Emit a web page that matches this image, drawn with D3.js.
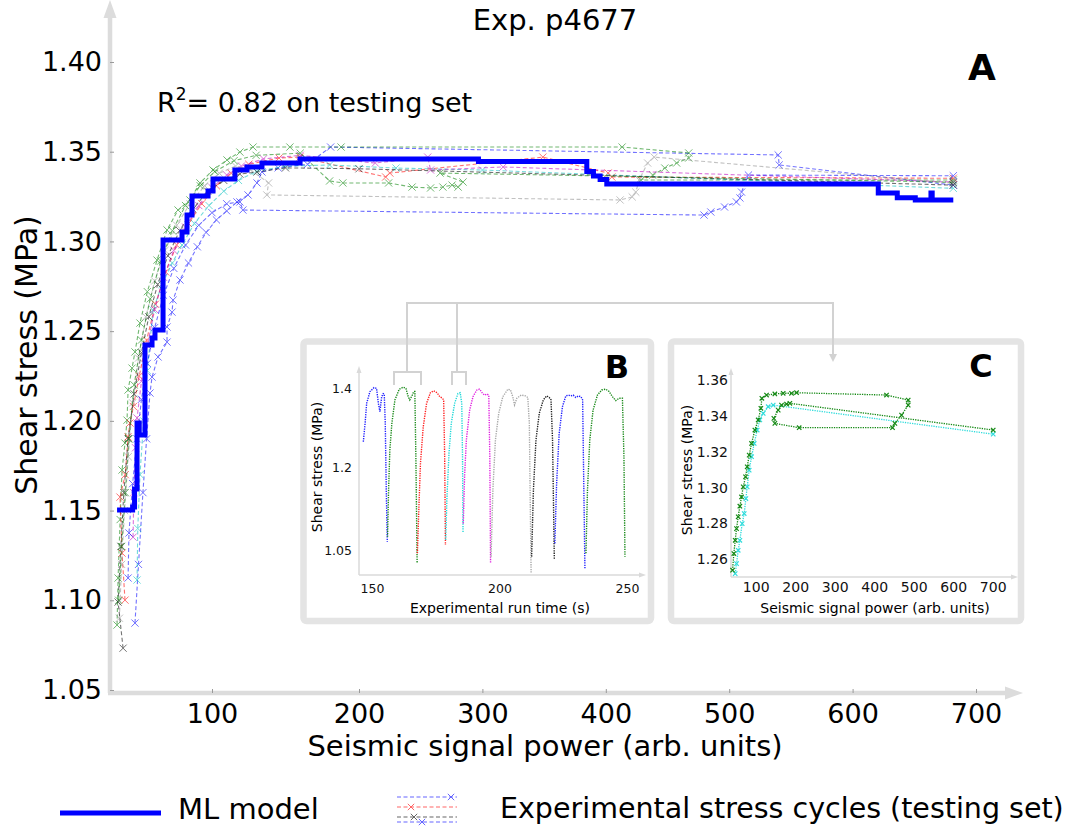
<!DOCTYPE html>
<html><head><meta charset="utf-8">
<script src="https://cdn.jsdelivr.net/npm/d3@7/dist/d3.min.js"></script>
<style>
html,body{margin:0;padding:0;background:#fff;}
svg{display:block;font-family:"DejaVu Sans",sans-serif;}
</style></head>
<body>
<svg id="chart" width="1075" height="826"></svg>
<script>
// ================= DATA =================
const mainXTicks = [100, 200, 300, 400, 500, 600, 700];
const mainYTicks = [1.05, 1.10, 1.15, 1.20, 1.25, 1.30, 1.35, 1.40];

// ML model prediction (seismic power, shear stress)
const mlModel = [[35.4,1.1503],[46,1.152],[47.3,1.162],[49,1.1988],[50.5,1.1921],[54.4,1.2423],[59.2,1.2462],[61.2,1.2506],[66.7,1.3008],[79.6,1.3052],[83,1.3147],[86.4,1.3253],[97.3,1.3281],[100.7,1.3348],[115.6,1.3398],[123.8,1.3415],[134,1.3437],[159.9,1.3459],[296.8,1.3445],[384.6,1.339],[390,1.3365],[395.4,1.3345],[400.8,1.332],[620.8,1.327],[636.2,1.3244],[650.8,1.3231],[663.5,1.327],[664.5,1.3231],[681.6,1.3231]];

// Experimental stress cycles (testing set)
const expBlueA = [[47.6,1.0873],[50,1.12],[53,1.16],[55.5,1.19],[57.8,1.2155],[59.2,1.2244],[63.3,1.2356],[69.4,1.2439],[69.4,1.2523],[72.8,1.2606],[73.5,1.2673],[78.2,1.2785],[84,1.288],[90,1.297],[96,1.305],[103,1.312],[110,1.317],[117,1.322],[124.5,1.3259],[130.6,1.3326],[134,1.3387],[145,1.341],[165,1.343],[180.7,1.3526],[539.7,1.3482],[540.5,1.3426],[681.6,1.3314]];
const expGreenA = [[35.4,1.0862],[36.1,1.1124],[37.5,1.145],[38.8,1.1726],[40.8,1.1876],[42.2,1.2004],[42.9,1.2172],[45.6,1.2294],[47.6,1.2384],[51,1.2545],[56,1.272],[62.6,1.2896],[69.4,1.3064],[76.9,1.3175],[85,1.3231],[91.8,1.3326],[100.7,1.3398],[110.2,1.3454],[119,1.3498],[127.9,1.3526],[153,1.3526],[187.8,1.3526],[413.2,1.3526],[467.2,1.3493],[467.2,1.3465],[457.4,1.3437],[447.8,1.3409],[438,1.337],[428.4,1.3342],[681.6,1.3342]];
const expRed = [[40.8,1.1001],[38.8,1.1263],[37.4,1.1575],[41,1.17],[42.9,1.191],[44.2,1.1988],[46.5,1.208],[50.5,1.225],[55.5,1.245],[61.5,1.265],[68.5,1.283],[76,1.298],[84,1.31],[93,1.321],[103,1.331],[113,1.338],[125,1.343],[145.6,1.3465],[159.9,1.347],[221.6,1.3359],[225,1.3381],[349,1.347],[401.9,1.3381],[404.9,1.3359],[681.6,1.3352]];
const expCyan = [[49,1.1113],[49.5,1.14],[51,1.17],[53.5,1.2],[56,1.228],[59.9,1.2618],[66,1.276],[73,1.288],[79.6,1.298],[88,1.31],[98,1.32],[108,1.328],[118,1.334],[130,1.339],[150,1.342],[180,1.3426],[230,1.3409],[300,1.3398],[681.6,1.3296]];
const expMagenta = [[46.3,1.1352],[46.8,1.16],[48,1.185],[49,1.2016],[52,1.222],[56,1.242],[61,1.262],[67,1.28],[74,1.295],[82,1.308],[91,1.32],[100,1.33],[110,1.337],[120,1.342],[135,1.346],[160,1.348],[213.2,1.3437],[255.7,1.347],[258,1.3398],[316.8,1.3415],[681.6,1.3331]];
const expGray = [[37,1.09],[38.5,1.12],[40.5,1.15],[43,1.18],[46,1.21],[50,1.235],[55,1.258],[61,1.278],[68,1.295],[76,1.309],[85,1.321],[95,1.331],[105,1.338],[116,1.342],[126,1.34],[138.5,1.3326],[137.3,1.3259],[411.6,1.3231],[421.4,1.3248],[424.3,1.3275],[427,1.3342],[433.9,1.3437],[439.2,1.347],[681.6,1.3324]];
const expBlack = [[39.5,1.0733],[36.1,1.099],[38,1.13],[40,1.16],[43,1.19],[47,1.215],[52,1.238],[57,1.258],[63,1.276],[70,1.292],[78,1.306],[87,1.318],[97,1.328],[108,1.334],[119,1.3375],[130.6,1.3387],[150,1.341],[200,1.3405],[681.6,1.3314]];
const expBlueB = [[42.9,1.1124],[43.5,1.1375],[46,1.165],[49,1.19],[52,1.212],[56,1.232],[61,1.252],[67,1.27],[74,1.285],[82,1.298],[91,1.309],[100,1.316],[110,1.321],[119,1.322],[121,1.3175],[479.6,1.3147],[485.1,1.3164],[496.2,1.3192],[505.8,1.322],[508.7,1.3242],[510,1.3275],[515.6,1.337],[681.6,1.3366]];
const expGreenB = [[36.5,1.1],[38.5,1.13],[41,1.16],[43.5,1.19],[47,1.22],[52,1.245],[58,1.268],[65,1.289],[73,1.306],[82,1.32],[92,1.331],[102,1.339],[115,1.345],[130,1.348],[160,1.3492],[180,1.3337],[189,1.3326],[224,1.3326],[243,1.3303],[258,1.3298],[268,1.3303],[275.4,1.3314],[280.3,1.3303],[284.3,1.3331],[265.7,1.3381],[681.6,1.333]];
const expCycles = [expBlueA, expGreenA, expRed, expCyan, expMagenta, expGray, expBlack, expBlueB, expGreenB];
const expColors = ["#0000ff","#008000","#ff0000","#00bfbf","#bf00bf","#909090","#000000","#0000ff","#008000"];

// Inset B: shear stress vs experimental run time (s)
const bXTicks = [150, 200, 250];
const bYTicks = [1.05, 1.2, 1.4];
const bYTickLabels = ["1.05", "1.2", "1.4"];
const bBlue1 = [[146.6,1.264],[147.3,1.311],[147.9,1.361],[149.2,1.391],[150.8,1.401],[151.8,1.399],[152.5,1.361],[153.1,1.34],[153.8,1.378],[154.4,1.386],[154.8,1.385],[155.2,1.311],[155.6,1.158],[156.0,1.065]];
const bGreen1 = [[156.1,1.074],[156.5,1.158],[157.0,1.243],[157.8,1.311],[159.0,1.37],[160.7,1.397],[162.2,1.402],[163.3,1.399],[164.2,1.378],[164.8,1.37],[165.8,1.382],[166.4,1.391],[166.8,1.391],[167.2,1.226],[167.7,1.026]];
const bRed = [[167.8,1.044],[168.4,1.128],[169.0,1.209],[170.1,1.302],[171.4,1.361],[172.9,1.388],[174.2,1.393],[175.5,1.388],[176.6,1.378],[177.6,1.374],[178.1,1.37],[178.5,1.226],[178.8,1.059]];
const bCyan = [[178.9,1.068],[179.4,1.146],[180.2,1.235],[181.1,1.311],[182.4,1.361],[183.7,1.386],[184.6,1.388],[185.2,1.361],[185.5,1.226],[185.7,1.081]];
const bMagenta = [[185.8,1.098],[186.3,1.183],[187.0,1.268],[188.3,1.344],[189.6,1.378],[191.1,1.395],[192.2,1.397],[193.2,1.388],[194.1,1.382],[195.1,1.385],[195.8,1.382],[196.2,1.226],[196.5,1.026]];
const bGray = [[196.7,1.038],[197.4,1.158],[198.4,1.268],[199.7,1.336],[201.3,1.378],[203.3,1.397],[204.3,1.395],[205.2,1.378],[205.9,1.357],[206.8,1.374],[208.5,1.382],[210.2,1.38],[211.1,1.376],[211.7,1.311],[212.0,1.158],[212.4,1.008]];
const bBlack = [[212.6,1.038],[213.3,1.158],[214.3,1.268],[215.6,1.336],[217.2,1.37],[218.5,1.38],[219.5,1.376],[220.2,1.37],[220.8,1.268],[221.5,1.033]];
const bBlue2 = [[221.7,1.062],[222.4,1.17],[223.4,1.285],[224.7,1.353],[226.0,1.38],[227.1,1.382],[228.0,1.38],[228.9,1.382],[229.9,1.376],[231.0,1.38],[231.9,1.378],[232.6,1.37],[232.9,1.226],[233.5,1.017]];
const bGreen2 = [[233.9,1.044],[234.5,1.158],[235.4,1.268],[236.7,1.344],[238.4,1.382],[240.1,1.395],[241.7,1.397],[243.0,1.391],[244.3,1.378],[245.6,1.368],[246.9,1.374],[248.2,1.374],[248.8,1.226],[249.2,1.038]];
const bCycles = [bBlue1, bGreen1, bRed, bCyan, bMagenta, bGray, bBlack, bBlue2, bGreen2];
const bColors = ["#2020ff","#1a8a1a","#ff2020","#20d8d8","#e020e0","#a8a8a8","#202020","#2020ff","#1a8a1a"];

// Inset C: two cycles, shear stress vs seismic power
const cXTicks = [100, 200, 300, 400, 500, 600, 700];
const cYTicks = [1.26, 1.28, 1.30, 1.32, 1.34, 1.36];
const cGreen = [[41.4,1.2539],[44.7,1.2632],[48.1,1.2706],[51.5,1.2771],[55.7,1.2837],[59.9,1.2896],[64.1,1.2948],[68.4,1.3004],[74.3,1.306],[78.5,1.3116],[83.5,1.3181],[89.5,1.3246],[97.9,1.3321],[106.3,1.3377],[113.1,1.3442],[115.6,1.3498],[127.4,1.3516],[148.5,1.3522],[169.6,1.3526],[190.7,1.3526],[203.4,1.3529],[431.2,1.3516],[486.1,1.3488],[486.1,1.346],[469.2,1.3404],[452.3,1.3358],[446.4,1.3334],[210.1,1.3334],[148.5,1.3358],[146,1.3386],[157,1.3432],[165.4,1.346],[178.1,1.3466],[186.5,1.347],[701.3,1.3321]];
const cCyan = [[48.1,1.252],[51.5,1.2576],[55.7,1.265],[59.9,1.2706],[65.8,1.2799],[70.9,1.2855],[75.1,1.2939],[78.5,1.3004],[83.5,1.3097],[89.5,1.3172],[96.2,1.3246],[103.8,1.3321],[110.5,1.3377],[119,1.3414],[131.6,1.3451],[144.3,1.346],[701.3,1.3298]];

// ================= DRAWING =================
const svg = d3.select("#chart");
const AX = "#dcdcdc";
const xMark = s => `M${-s},${-s}L${s},${s}M${-s},${s}L${s},${-s}`;

function arrowHead(g, tip, dir, len, half, color) {
  let pts;
  const [tx, ty] = tip;
  if (dir === "up") pts = [[tx,ty],[tx-half,ty+len],[tx+half,ty+len]];
  else if (dir === "right") pts = [[tx,ty],[tx-len,ty-half],[tx-len,ty+half]];
  else pts = [[tx,ty],[tx-half,ty-len],[tx+half,ty-len]];
  g.append("path").attr("d", d3.line()(pts) + "Z").attr("fill", color);
}

// ---------- main panel ----------
const x = d3.scaleLinear().domain([30.6, 100, 200, 700]).range([110, 212, 359, 976]);
const y = d3.scaleLinear().domain([1.05, 1.40]).range([690, 62]);
const main = svg.append("g");

main.append("line").attr("x1",110).attr("x2",110).attr("y1",693).attr("y2",16).attr("stroke",AX).attr("stroke-width",4.5);
arrowHead(main,[110,0],"up",18,6.5,AX);
main.append("line").attr("x1",108).attr("x2",1006).attr("y1",693).attr("y2",693).attr("stroke",AX).attr("stroke-width",4.5);
arrowHead(main,[1023,693],"right",18,6.5,AX);

const yAxis = main.append("g").attr("transform","translate(110,0)")
  .call(d3.axisLeft(y).tickValues(mainYTicks).tickFormat(d3.format(".2f")).tickSize(-4).tickPadding(8));
const xAxis = main.append("g").attr("transform","translate(0,693)")
  .call(d3.axisBottom(x).tickValues(mainXTicks).tickFormat(d3.format("d")).tickSize(-4).tickPadding(11));
[yAxis, xAxis].forEach(a => {
  a.select(".domain").remove();
  a.selectAll(".tick line").attr("stroke","#9a9a9a").attr("stroke-width",1);
  a.selectAll("text").attr("font-size",27).attr("fill","#000").attr("font-family","DejaVu Sans");
});

const lineMain = d3.line().x(d => x(d[0])).y(d => y(d[1]));
expCycles.forEach((cyc, i) => {
  const g = main.append("g").attr("opacity", 0.55);
  g.append("path").attr("d", lineMain(cyc)).attr("fill","none")
    .attr("stroke", expColors[i]).attr("stroke-width",1.1).attr("stroke-dasharray","4,2.5");
  g.selectAll("path.m").data(cyc).join("path").attr("class","m")
    .attr("transform", d => `translate(${x(d[0])},${y(d[1])})`)
    .attr("d", xMark(3.6)).attr("stroke", expColors[i]).attr("stroke-width",1).attr("fill","none");
});

main.append("path").attr("d", d3.line().x(d => x(d[0])).y(d => y(d[1])).curve(d3.curveStepAfter)(mlModel))
  .attr("fill","none").attr("stroke","#0000ff").attr("stroke-width",5).attr("stroke-linejoin","miter");

main.append("text").attr("x",555).attr("y",30).attr("text-anchor","middle").attr("font-size",29).text("Exp. p4677");
const r2 = main.append("text").attr("x",157).attr("y",112).attr("font-size",27);
r2.append("tspan").text("R");
r2.append("tspan").attr("font-size",17).attr("dy",-12).text("2");
r2.append("tspan").attr("dy",12).text("= 0.82 on testing set");
main.append("text").attr("x",982).attr("y",80).attr("text-anchor","middle").attr("font-size",36).attr("font-weight","bold").text("A");
main.append("text").attr("transform","translate(37,355) rotate(-90)").attr("text-anchor","middle").attr("font-size",30).text("Shear stress (MPa)");
main.append("text").attr("x",545).attr("y",756).attr("text-anchor","middle").attr("font-size",29).text("Seismic signal power (arb. units)");

// ---------- inset frames ----------
const FR = "#e4e4e4";
svg.append("rect").attr("x",303.5).attr("y",341.5).attr("width",347.5).attr("height",279.5).attr("rx",3)
  .attr("fill","#fff").attr("stroke",FR).attr("stroke-width",6.5);
svg.append("rect").attr("x",671).attr("y",341.5).attr("width",350).attr("height",279.5).attr("rx",3)
  .attr("fill","#fff").attr("stroke",FR).attr("stroke-width",6.5);

// ---------- inset B ----------
const bx = d3.scaleLinear().domain([150, 250]).range([372, 627]);
const by = d3.scaleLinear().domain([1.05, 1.2, 1.4]).range([550, 467, 388]);
const B = svg.append("g");
const IAX = "#dadada";
B.append("line").attr("x1",359).attr("x2",359).attr("y1",575).attr("y2",372).attr("stroke",IAX).attr("stroke-width",1.5);
arrowHead(B,[359,366],"up",7,2.5,IAX);
B.append("line").attr("x1",359).attr("x2",640).attr("y1",575).attr("y2",575).attr("stroke",IAX).attr("stroke-width",1.5);
arrowHead(B,[646,575],"right",7,2.5,IAX);
const bya = B.append("g").attr("transform","translate(359,0)")
  .call(d3.axisLeft(by).tickValues(bYTicks).tickFormat((d,i) => bYTickLabels[i]).tickSize(0).tickPadding(7));
const bxa = B.append("g").attr("transform","translate(0,575)")
  .call(d3.axisBottom(bx).tickValues(bXTicks).tickFormat(d3.format("d")).tickSize(0).tickPadding(9));
[bya, bxa].forEach(a => { a.select(".domain").remove(); a.selectAll("text").attr("font-size",12.5).attr("fill","#111").attr("font-family","DejaVu Sans"); });
const lineB = d3.line().x(d => bx(d[0])).y(d => by(d[1]));
bCycles.forEach((cyc,i) => {
  B.append("path").attr("d", lineB(cyc)).attr("fill","none").attr("stroke", bColors[i])
    .attr("stroke-width",1.4).attr("stroke-dasharray","1.3,1.1");
});
B.append("text").attr("transform","translate(322,467) rotate(-90)").attr("text-anchor","middle").attr("font-size",14).text("Shear stress (MPa)");
B.append("text").attr("x",500).attr("y",613).attr("text-anchor","middle").attr("font-size",14).text("Experimental run time (s)");
B.append("text").attr("x",617).attr("y",378).attr("text-anchor","middle").attr("font-size",32).attr("font-weight","bold").text("B");

// ---------- inset C ----------
const cx = d3.scaleLinear().domain([100, 700]).range([755.7, 992.7]);
const cy = d3.scaleLinear().domain([1.26, 1.36]).range([559.3, 380]);
const C = svg.append("g");
C.append("line").attr("x1",731).attr("x2",731).attr("y1",577).attr("y2",374).attr("stroke",IAX).attr("stroke-width",1.5);
arrowHead(C,[731,368],"up",7,2.5,IAX);
C.append("line").attr("x1",731).attr("x2",1012).attr("y1",577).attr("y2",577).attr("stroke",IAX).attr("stroke-width",1.5);
arrowHead(C,[1018,577],"right",7,2.5,IAX);
const cya = C.append("g").attr("transform","translate(731,0)")
  .call(d3.axisLeft(cy).tickValues(cYTicks).tickFormat(d3.format(".2f")).tickSize(0).tickPadding(3));
const cxa = C.append("g").attr("transform","translate(0,577)")
  .call(d3.axisBottom(cx).tickValues(cXTicks).tickFormat(d3.format("d")).tickSize(0).tickPadding(5));
[cya, cxa].forEach(a => { a.select(".domain").remove(); a.selectAll("text").attr("font-size",14).attr("fill","#111").attr("font-family","DejaVu Sans"); });
const lineC = d3.line().x(d => cx(d[0])).y(d => cy(d[1]));
[[cCyan,"#30dcdc"],[cGreen,"#168a16"]].forEach(([cyc,col]) => {
  C.append("path").attr("d", lineC(cyc)).attr("fill","none").attr("stroke", col)
    .attr("stroke-width",1.3).attr("stroke-dasharray","1.3,1.1");
  C.selectAll(null).data(cyc).join("path")
    .attr("transform", d => `translate(${cx(d[0])},${cy(d[1])})`)
    .attr("d", xMark(2.2)).attr("stroke", col).attr("stroke-width",1.2).attr("fill","none");
});
C.append("text").attr("transform","translate(692,470) rotate(-90)").attr("text-anchor","middle").attr("font-size",14).text("Shear stress (MPa)");
C.append("text").attr("x",875).attr("y",613).attr("text-anchor","middle").attr("font-size",14).text("Seismic signal power (arb. units)");
C.append("text").attr("x",981).attr("y",377).attr("text-anchor","middle").attr("font-size",32).attr("font-weight","bold").text("C");

// ---------- connectors ----------
const CN = "#d2d2d2";
const K = svg.append("g").attr("fill","none").attr("stroke",CN).attr("stroke-width",2);
K.append("path").attr("d","M407,372V303H833V356");
K.append("path").attr("d","M457,303V372");
K.append("path").attr("d","M394,385V372H421V385");
K.append("path").attr("d","M452,385V372H466V385");
arrowHead(svg,[833,362],"down",8,4,CN);

// ---------- legend ----------
const L = svg.append("g");
L.append("line").attr("x1",60).attr("x2",161).attr("y1",813).attr("y2",813).attr("stroke","#0000ff").attr("stroke-width",5);
L.append("text").attr("x",178).attr("y",819).attr("font-size",29).text("ML model");
const legSamples = [[797,451,"#0000ff"],[807,411,"#ff0000"],[817,414,"#000000"],[822,422,"#0000ff"]];
legSamples.forEach(([yy,mx,col]) => {
  const g = L.append("g").attr("opacity",0.6);
  g.append("line").attr("x1",397).attr("x2",457).attr("y1",yy).attr("y2",yy).attr("stroke",col).attr("stroke-width",1.1).attr("stroke-dasharray","4,2.5");
  g.append("path").attr("transform",`translate(${mx},${yy})`).attr("d",xMark(3.2)).attr("stroke",col).attr("fill","none");
});
L.append("text").attr("x",500).attr("y",818).attr("font-size",28.5).text("Experimental stress cycles (testing set)");
</script>
</body></html>
